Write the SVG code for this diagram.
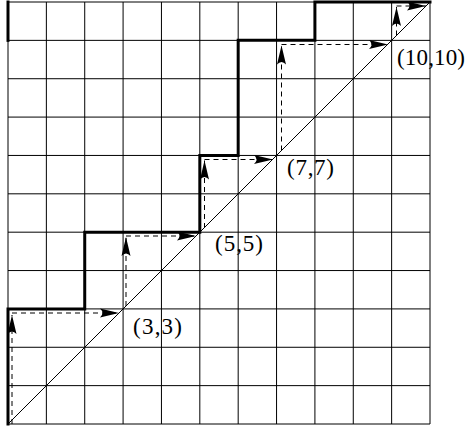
<svg xmlns="http://www.w3.org/2000/svg" width="470" height="428" viewBox="0 0 470 428">
<style>
.grid{stroke:#000;stroke-width:1;fill:none}
.stair{stroke:#000;stroke-width:3;fill:none;stroke-linejoin:miter;stroke-linecap:square}
.diag{stroke:#000;stroke-width:1;fill:none}
.dash{stroke:#000;stroke-width:1;fill:none;stroke-dasharray:5,4;marker-end:url(#arr)}
.lbl{font-family:"Liberation Serif","Times New Roman",serif;font-size:23px;fill:#000}
</style>
<defs>
<marker id="arr" markerUnits="userSpaceOnUse" viewBox="-20 -5 21 10" markerWidth="21" markerHeight="10" refX="0" refY="0" orient="auto" overflow="visible">
<path d="M0,0 L-19,-4.5 Q-14,0 -19,4.5 Z" fill="#000" stroke="none"/>
</marker>
</defs>
<g id="grid">
<path class="grid" d="M8,2 V424 M46.36,2 V424 M84.73,2 V424 M123.09,2 V424 M161.45,2 V424 M199.82,2 V424 M238.18,2 V424 M276.55,2 V424 M314.91,2 V424 M353.27,2 V424 M391.64,2 V424 M430,2 V424 M8,2 H430 M8,40.36 H430 M8,78.73 H430 M8,117.09 H430 M8,155.45 H430 M8,193.82 H430 M8,232.18 H430 M8,270.55 H430 M8,308.91 H430 M8,347.27 H430 M8,385.64 H430 M8,424 H430"/>
<path class="stair" d="M8,2 V40.36"/>
</g>
<g id="diagonal">
<path class="diag" d="M8,424 L430,2"/>
</g>
<g id="staircase">
<path class="stair" d="M8,424 V308.91 H84.73 V232.18 H199.82 V155.45 H238.18 V40.36 H314.91 V2 H430"/>
</g>
<g id="connectors">
<path class="dash" d="M12,424 V315"/>
<path class="dash" d="M12,313 H119"/>
<path class="dash" d="M126,306 V237"/>
<path class="dash" d="M126,236 H196"/>
<path class="dash" d="M204.5,228 V160.5"/>
<path class="dash" d="M204.5,159.5 H273"/>
<path class="dash" d="M281.5,150.5 V45.5"/>
<path class="dash" d="M281.5,44.5 H388"/>
<path class="dash" d="M396.5,35.5 V7"/>
<path class="dash" d="M396.5,6 H426"/>
</g>
<g id="label-3-3"><text class="lbl" x="133" y="334" textLength="49" lengthAdjust="spacing">(3,3)</text></g>
<g id="label-5-5"><text class="lbl" x="215" y="251" textLength="48" lengthAdjust="spacing">(5,5)</text></g>
<g id="label-7-7"><text class="lbl" x="287" y="175" textLength="47" lengthAdjust="spacing">(7,7)</text></g>
<g id="label-10-10"><text class="lbl" x="397" y="65" textLength="68" lengthAdjust="spacing">(10,10)</text></g>
</svg>
